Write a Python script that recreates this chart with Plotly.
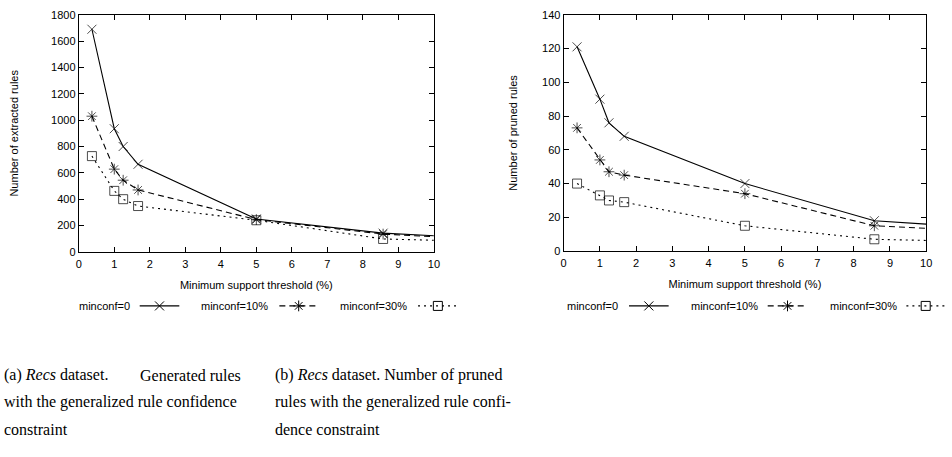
import plotly.graph_objects as go

# ---- data ----
support = [0.37, 1.0, 1.25, 1.67, 5.0, 8.57, 10.0]

extracted_minconf0 = [1690, 935, 800, 665, 250, 142, 122]
extracted_minconf10 = [1030, 628, 544, 470, 245, 135, 115]
extracted_minconf30 = [727, 463, 400, 348, 240, 98, 88]

pruned_minconf0 = [121, 90, 76, 68, 40, 18, 16]
pruned_minconf10 = [73, 54, 47, 45, 34, 15, 13.5]
pruned_minconf30 = [40, 33, 30, 29, 15, 7, 6.3]

series_names = ["minconf=0", "minconf=10%", "minconf=30%"]
x_ticks = list(range(0, 11))
y_ticks_left = list(range(0, 1801, 200))
y_ticks_right = list(range(0, 141, 20))

W, H = 952, 457
FONT = "Liberation Sans"
SERIF = "Liberation Serif"

styles = [
    dict(dash="solid", symbol="x-thin-open"),
    dict(dash="6px,4px", symbol="asterisk-open"),
    dict(dash="2px,4px", symbol="square-open"),
]

def px(x):
    return x / W

def py(y):
    return 1 - y / H

fig = go.Figure()

msize = [9] * (len(support) - 1) + [0]

left_series = [extracted_minconf0, extracted_minconf10, extracted_minconf30]
right_series = [pruned_minconf0, pruned_minconf10, pruned_minconf30]

for vals, st, nm in zip(left_series, styles, series_names):
    fig.add_trace(go.Scatter(
        x=support, y=vals, name=nm, mode="lines+markers", xaxis="x", yaxis="y",
        line=dict(color="black", width=1.1, dash=st["dash"]),
        marker=dict(symbol=st["symbol"], size=msize, color="black",
                    line=dict(color="black", width=1)),
        showlegend=False, cliponaxis=True))

for vals, st, nm in zip(right_series, styles, series_names):
    fig.add_trace(go.Scatter(
        x=support, y=vals, name=nm, mode="lines+markers", xaxis="x2", yaxis="y2",
        line=dict(color="black", width=1.1, dash=st["dash"]),
        marker=dict(symbol=st["symbol"], size=msize, color="black",
                    line=dict(color="black", width=1)),
        showlegend=False, cliponaxis=True))

# ---- legend keys drawn on a hidden full-page axis (pixel coordinates) ----
legend_rows = [
    [(130, 138, 178), (270, 279, 318), (410, 419, 459)],
    [(623, 632, 672), (764, 772, 812), (905, 912, 951)],
]
legend_y = 308
for row in legend_rows:
    for (tx, s0, s1), st, nm in zip(row, styles, series_names):
        fig.add_trace(go.Scatter(
            x=[s0, s1], y=[legend_y, legend_y], mode="lines", xaxis="x3", yaxis="y3",
            line=dict(color="black", width=1.1, dash=st["dash"]),
            showlegend=False, hoverinfo="skip"))
        fig.add_trace(go.Scatter(
            x=[(s0 + s1) / 2], y=[legend_y], mode="markers", xaxis="x3", yaxis="y3",
            marker=dict(symbol=st["symbol"], size=9, color="black",
                        line=dict(color="black", width=1)),
            showlegend=False, hoverinfo="skip"))
        fig.add_annotation(x=px(tx), y=py(legend_y), xref="paper", yref="paper",
                           text=nm, showarrow=False, xanchor="right", yanchor="middle",
                           font=dict(family=FONT, size=11, color="black"))

axis_common = dict(
    showgrid=False, zeroline=False, showline=True, linecolor="black", linewidth=1,
    mirror="allticks", ticks="inside", ticklen=5, tickcolor="black", tickwidth=1,
    tickfont=dict(family=FONT, size=11, color="black"),
)
title_font = dict(family=FONT, size=11, color="black")

fig.update_layout(
    width=W, height=H, margin=dict(l=0, r=0, t=0, b=0),
    paper_bgcolor="white", plot_bgcolor="rgba(0,0,0,0)",
    xaxis=dict(domain=[px(76.5), px(435)], range=[0, 10], tickvals=x_ticks,
               anchor="y", ticklabelstandoff=2,
               title=dict(text="Minimum support threshold (%)",
                          font=title_font, standoff=12), **axis_common),
    yaxis=dict(domain=[py(252.5), py(9)], range=[0, 1800], tickvals=y_ticks_left,
               anchor="x", title=dict(text="Number of extracted rules",
                                      font=title_font, standoff=30), **axis_common),
    xaxis2=dict(domain=[px(566), px(932)], range=[0, 10], tickvals=x_ticks,
                anchor="y2", ticklabelstandoff=2,
                title=dict(text="Minimum support threshold (%)",
                           font=title_font, standoff=12), **axis_common),
    yaxis2=dict(domain=[py(251.7), py(9)], range=[0, 140], tickvals=y_ticks_right,
                anchor="x2", title=dict(text="Number of pruned rules",
                                        font=title_font, standoff=22), **axis_common),
    xaxis3=dict(domain=[0, 1], range=[0, W], visible=False, anchor="y3"),
    yaxis3=dict(domain=[0, 1], range=[H, 0], visible=False, anchor="x3"),
)

# ---- captions ----
cap_font = dict(family=SERIF, size=16, color="black")
captions = [
    (0, 379, "left", "(a) <i>Recs</i> dataset."),
    (241, 379, "right", "Generated rules"),
    (0, 407, "left", "with the generalized rule confidence"),
    (0, 435, "left", "constraint"),
    (274, 379, "left", "(b) <i>Recs</i> dataset. Number of pruned"),
    (274, 407, "left", "rules with the generalized rule confi-"),
    (274, 435, "left", "dence constraint"),
]
for x, y, anc, t in captions:
    fig.add_annotation(x=px(x), y=py(y), xref="paper", yref="paper", text=t,
                       showarrow=False, xanchor=anc, yanchor="middle", font=cap_font,
                       borderpad=0)

fig.write_html("out.html", config={"displayModeBar": False},
               post_script="document.body.style.margin='0px';document.body.style.padding='0px';")
